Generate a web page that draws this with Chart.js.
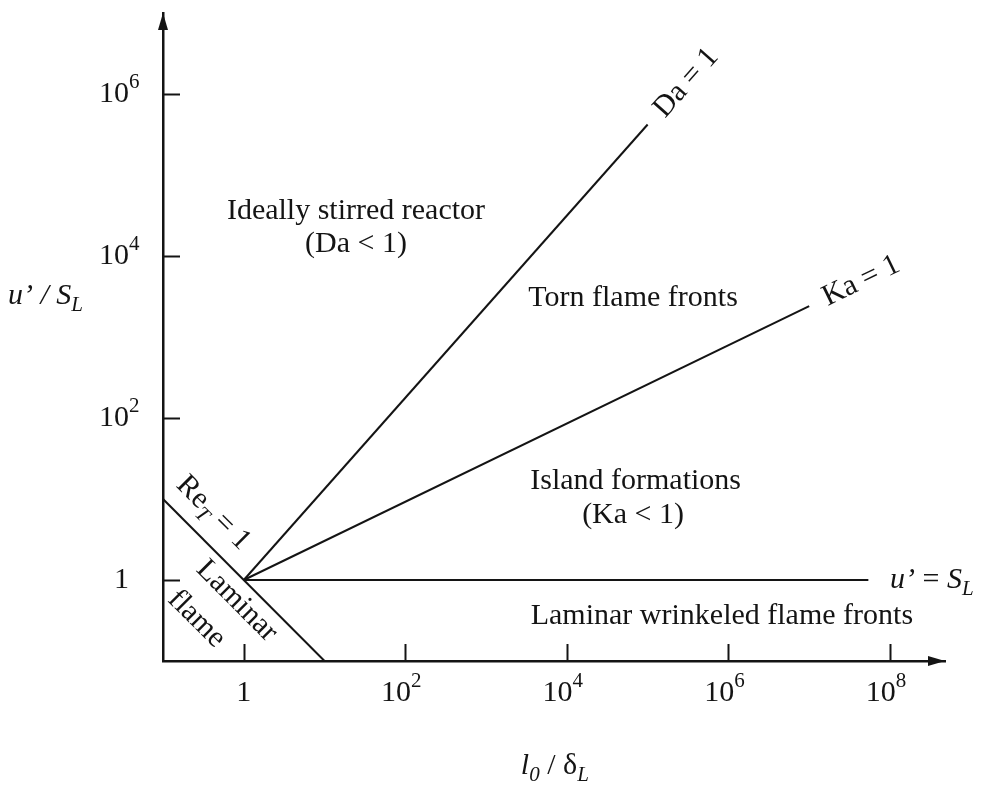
<!DOCTYPE html>
<html>
<head>
<meta charset="utf-8">
<title>Turbulent combustion regimes</title>
<script src="https://cdn.jsdelivr.net/npm/chart.js@4/dist/chart.umd.min.js"></script>
<style>
  html, body { margin: 0; padding: 0; background: #ffffff; }
  #wrap { width: 984px; height: 792px; }
</style>
</head>
<body>
<div id="wrap"><canvas id="c" width="984" height="792"></canvas></div>
<script>
// Axis ticks (log scales, l0/deltaL and u'/SL); '^' marks the exponent
const xTickValues = [1, 1e2, 1e4, 1e6, 1e8];
const xTickLabels = ['1', '10^2', '10^4', '10^6', '10^8'];
const yTickValues = [1, 1e2, 1e4, 1e6];
const yTickLabels = ['1', '10^2', '10^4', '10^6'];

// Regime boundary lines
const reX = [0.1, 10];      // Re_T = 1
const reY = [10, 0.1];
const daX = [1, 1e5];       // Da = 1
const daY = [1, 4.2e5];
const kaX = [1, 1e7];       // Ka = 1
const kaY = [1, 2.4e3];
const slX = [1, 5.4e7];     // u' = S_L
const slY = [1, 1];

const INK = '#141414';
const SERIF = '"Liberation Serif", "DejaVu Serif", serif';
const FS = 30;

function pts(xs, ys) { return xs.map((x, i) => ({ x: x, y: ys[i] })); }

function lineSet(xs, ys) {
  return {
    data: pts(xs, ys), showLine: true, pointRadius: 0,
    borderColor: INK, borderWidth: 2, fill: false, tension: 0
  };
}

// Rich text: parts of {t, it, sub, sup}
function fontFor(size, it) { return (it ? 'italic ' : '') + size + 'px ' + SERIF; }
function partSize(p, size) { return (p.sub || p.sup) ? size * 0.7 : size; }
function richWidth(ctx, parts, size) {
  let w = 0;
  parts.forEach(p => {
    ctx.font = fontFor(partSize(p, size), p.it);
    w += ctx.measureText(p.t).width;
  });
  return w;
}
function drawRich(ctx, parts, x, y, size, align) {
  const w = richWidth(ctx, parts, size);
  let cx = align === 'left' ? x : (align === 'right' ? x - w : x - w / 2);
  ctx.textBaseline = 'middle';
  ctx.textAlign = 'left';
  parts.forEach(p => {
    ctx.font = fontFor(partSize(p, size), p.it);
    let dy = 0;
    if (p.sub) dy = size * 0.32;
    if (p.sup) dy = -size * 0.4;
    ctx.fillText(p.t, cx, y + dy);
    cx += ctx.measureText(p.t).width;
  });
}
function tickParts(label) {
  const [base, exp] = label.split('^');
  const parts = [{ t: base }];
  if (exp) parts.push({ t: exp, sup: true });
  return parts;
}

// Region labels, placed in data coordinates
const regionLabels = [
  { parts: [{ t: 'Ideally stirred reactor' }], x: 24.5, y: 3.6e4 },
  { parts: [{ t: '(Da < 1)' }], x: 24.5, y: 1.4e4 },
  { parts: [{ t: 'Torn flame fronts' }], x: 6.6e4, y: 3.0e3 },
  { parts: [{ t: 'Island formations' }], x: 7.1e4, y: 16.7 },
  { parts: [{ t: '(Ka < 1)' }], x: 6.6e4, y: 6.3 },
  { parts: [{ t: 'Laminar wrinkeled flame fronts' }], x: 8.3e5, y: 0.36 }
];

const overlay = {
  id: 'overlay',
  afterDatasetsDraw(chart) {
    const ctx = chart.ctx;
    const xs = chart.scales.x, ys = chart.scales.y;
    const area = chart.chartArea;
    const X = v => xs.getPixelForValue(v);
    const Y = v => ys.getPixelForValue(v);
    ctx.save();
    ctx.fillStyle = INK;
    ctx.strokeStyle = INK;

    // inward tick marks and tick labels
    ctx.lineWidth = 2;
    const TL = 17;
    xs.ticks.forEach((t, i) => {
      const px = Math.round(X(t.value)) + 0.5;
      ctx.beginPath(); ctx.moveTo(px, area.bottom); ctx.lineTo(px, area.bottom - TL); ctx.stroke();
      const parts = tickParts(xTickLabels[i]);
      const shift = parts.length > 1 ? -4 : 0;
      drawRich(ctx, parts, X(t.value) + shift, area.bottom + 32, FS, 'center');
    });
    ys.ticks.forEach((t, i) => {
      const py = Math.round(Y(t.value)) + 0.5;
      ctx.beginPath(); ctx.moveTo(area.left, py); ctx.lineTo(area.left + TL, py); ctx.stroke();
      const parts = tickParts(yTickLabels[i]);
      // the base number is right-aligned; the exponent hangs past it
      drawRich(ctx, [parts[0]], area.left - 34, Y(t.value), FS, 'right');
      if (parts[1]) drawRich(ctx, [parts[1]], area.left - 34, Y(t.value), FS, 'left');
    });

    // axis arrowheads
    ctx.beginPath();
    ctx.moveTo(area.left, area.top);
    ctx.lineTo(area.left - 5, area.top + 17);
    ctx.lineTo(area.left + 5, area.top + 17);
    ctx.closePath(); ctx.fill();
    ctx.beginPath();
    ctx.moveTo(area.right, area.bottom);
    ctx.lineTo(area.right - 17, area.bottom - 5);
    ctx.lineTo(area.right - 17, area.bottom + 5);
    ctx.closePath(); ctx.fill();

    // region labels
    regionLabels.forEach(l => drawRich(ctx, l.parts, X(l.x), Y(l.y), FS, 'center'));

    // u' = S_L
    drawRich(ctx, [{ t: 'u’', it: true }, { t: ' = ' }, { t: 'S', it: true }, { t: 'L', it: true, sub: true }],
      X(1e8), Y(slY[1]), FS, 'left');

    // rotated line labels
    function rotated(parts, vx, vy, angle) {
      ctx.save();
      ctx.translate(X(vx), Y(vy));
      ctx.rotate(angle);
      drawRich(ctx, parts, 0, 0, FS, 'center');
      ctx.restore();
    }
    const ang = (xa, ya) => Math.atan2(Y(ya[1]) - Y(ya[0]), X(xa[1]) - X(xa[0]));
    rotated([{ t: 'Da = 1' }], 3.0e5, 1.37e6, ang(daX, daY));
    rotated([{ t: 'Ka = 1' }], 4.4e7, 4.9e3, ang(kaX, kaY));
    const reAng = ang(reX, reY);
    rotated([{ t: 'Re' }, { t: 'T', it: true, sub: true }, { t: ' = 1' }], 0.42, 6.7, reAng);
    rotated([{ t: 'Laminar' }], 0.82, 0.55, reAng);
    rotated([{ t: 'flame' }], 0.26, 0.33, reAng);

    // axis titles
    drawRich(ctx, [{ t: 'u’ / S', it: true }, { t: 'L', it: true, sub: true }], 8, Y(3.2e3), FS, 'left');
    drawRich(ctx, [{ t: 'l', it: true }, { t: '0', it: true, sub: true }, { t: ' / δ' }, { t: 'L', it: true, sub: true }],
      X(7.1e3), area.bottom + 105, FS, 'center');

    ctx.restore();
  }
};

new Chart(document.getElementById('c'), {
  type: 'scatter',
  data: {
    datasets: [lineSet(reX, reY), lineSet(daX, daY), lineSet(kaX, kaY), lineSet(slX, slY)]
  },
  options: {
    responsive: false,
    animation: false,
    devicePixelRatio: 1,
    layout: { padding: { left: 0, top: 13, right: 39, bottom: 0 } },
    plugins: { legend: { display: false }, tooltip: { enabled: false } },
    scales: {
      x: {
        type: 'logarithmic', min: 0.1, max: 4.8e8,
        grid: { display: false, drawTicks: false },
        border: { display: true, color: INK, width: 2.5 },
        afterBuildTicks: s => { s.ticks = xTickValues.map(v => ({ value: v })); },
        afterFit: s => { s.height = 131; s.paddingLeft = 0; s.paddingRight = 0; },
        ticks: { display: false, autoSkip: false, maxRotation: 0 }
      },
      y: {
        type: 'logarithmic', min: 0.1, max: 1e7,
        grid: { display: false, drawTicks: false },
        border: { display: true, color: INK, width: 2.5 },
        afterBuildTicks: s => { s.ticks = yTickValues.map(v => ({ value: v })); },
        afterFit: s => { s.width = 163; s.paddingTop = 0; s.paddingBottom = 0; },
        ticks: { display: false, autoSkip: false }
      }
    }
  },
  plugins: [overlay]
});
</script>
</body>
</html>
